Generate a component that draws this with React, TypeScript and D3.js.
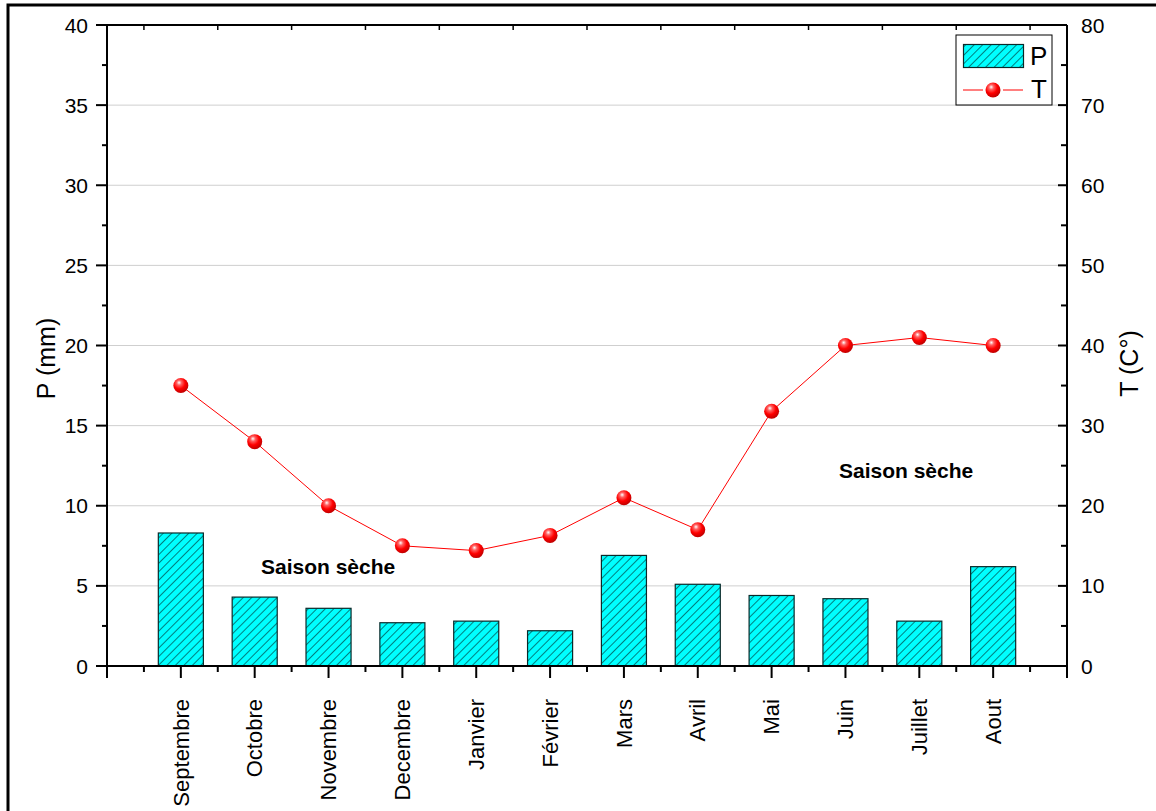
import React from "react";
import * as d3 from "d3";

const months = ["Septembre", "Octobre", "Novembre", "Decembre", "Janvier", "Février", "Mars", "Avril", "Mai", "Juin", "Juillet", "Aout"];
const precip = [8.3, 4.3, 3.6, 2.7, 2.8, 2.2, 6.9, 5.1, 4.4, 4.2, 2.8, 6.2];
const temp = [35, 28, 20, 15, 14.4, 16.3, 21, 17, 31.8, 40, 41, 40];
const pTicks = [0, 5, 10, 15, 20, 25, 30, 35, 40];
const tTicks = [0, 10, 20, 30, 40, 50, 60, 70, 80];

const W = 1156, H = 811;
const L = 107, R = 1067, T = 25, B = 666;
const FONT = "'Liberation Sans', Arial, sans-serif";

export default function App() {
  const x = d3.scaleLinear().domain([0, months.length + 1]).range([L, R]);
  const yP = d3.scaleLinear().domain([0, 40]).range([B, T]);
  const yT = d3.scaleLinear().domain([0, 80]).range([B, T]);
  const step = x(1) - x(0);
  const bw = step * 0.61;
  const majorX = d3.range(0, months.length + 2);
  const minorX = d3.range(0, months.length + 1).map((d) => d + 0.5);
  const pMinor = d3.range(0, 40, 5).map((d) => d + 2.5);
  const tMinor = d3.range(0, 80, 10).map((d) => d + 5);
  const line = d3.line<number>().x((_, i) => x(i + 1)).y((d) => yT(d));

  return (
    <svg width={W} height={H} style={{ position: "absolute", left: 0, top: 0, background: "#fff" }} fontFamily={FONT}>
      <defs>
        <pattern id="hatch" patternUnits="userSpaceOnUse" width="6" height="6" patternTransform="rotate(45)">
          <rect width="6" height="6" fill="#00FFFF" />
          <line x1="0" y1="0" x2="0" y2="6" stroke="#000" strokeWidth="1" />
        </pattern>
        <radialGradient id="ball" cx="0.4" cy="0.35" r="0.65" fx="0.38" fy="0.3">
          <stop offset="0" stopColor="#ffffff" />
          <stop offset="0.25" stopColor="#ff6060" />
          <stop offset="0.6" stopColor="#ff0000" />
          <stop offset="1" stopColor="#c00000" />
        </radialGradient>
      </defs>
      <rect x={8} y={5} width={W + 20} height={H + 20} fill="#fff" stroke="#000" strokeWidth={3} />

      {/* gridlines */}
      {pTicks.filter((d) => d > 0 && d < 40).map((d) => (
        <line key={"g" + d} x1={L} x2={R} y1={yP(d)} y2={yP(d)} stroke="#cfcfcf" strokeWidth={1} />
      ))}

      {/* bars */}
      {precip.map((v, i) => (
        <rect key={"b" + i} x={x(i + 1) - bw / 2} y={yP(v)} width={bw} height={B - yP(v)} fill="url(#hatch)" stroke="#0a2a2a" strokeWidth={1.2} />
      ))}

      {/* temperature line */}
      <path d={line(temp) || ""} fill="none" stroke="#ff0000" strokeWidth={1} />
      {temp.map((v, i) => (
        <circle key={"c" + i} cx={x(i + 1)} cy={yT(v)} r={7.5} fill="url(#ball)" />
      ))}

      {/* axes lines */}
      <line x1={L} x2={R} y1={B} y2={B} stroke="#000" strokeWidth={2} />
      <line x1={L} x2={R} y1={T} y2={T} stroke="#000" strokeWidth={2} />
      <line x1={L} x2={L} y1={T} y2={B} stroke="#000" strokeWidth={2} />
      <line x1={R} x2={R} y1={T} y2={B} stroke="#000" strokeWidth={2} />

      {/* bottom ticks */}
      {majorX.map((d) => (
        <line key={"mx" + d} x1={x(d)} x2={x(d)} y1={B} y2={B + 12} stroke="#000" strokeWidth={2} />
      ))}
      {minorX.map((d) => (
        <line key={"nx" + d} x1={x(d)} x2={x(d)} y1={B} y2={B + 6} stroke="#000" strokeWidth={2} />
      ))}
      {/* top ticks */}
      {minorX.map((d) => (
        <line key={"tx" + d} x1={x(d)} x2={x(d)} y1={T} y2={T + 5} stroke="#000" strokeWidth={1.5} />
      ))}
      {months.map((m, i) => (
        <text key={"ml" + i} transform={`translate(${x(i + 1)},699) rotate(-90)`} textAnchor="end" dy="0.35em" fontSize={22} fill="#000">{m}</text>
      ))}

      {/* left axis ticks */}
      {pTicks.map((d) => (
        <g key={"lp" + d}>
          <line x1={L - 11} x2={L} y1={yP(d)} y2={yP(d)} stroke="#000" strokeWidth={2} />
          <text x={L - 19} y={yP(d)} dy="0.36em" textAnchor="end" fontSize={21} fill="#000">{d}</text>
        </g>
      ))}
      {pMinor.map((d) => (
        <line key={"lpm" + d} x1={L - 5} x2={L} y1={yP(d)} y2={yP(d)} stroke="#000" strokeWidth={2} />
      ))}

      {/* right axis ticks */}
      {tTicks.map((d) => (
        <g key={"rt" + d}>
          <line x1={R - 9} x2={R} y1={yT(d)} y2={yT(d)} stroke="#000" strokeWidth={2} />
          <text x={R + 14} y={yT(d)} dy="0.36em" textAnchor="start" fontSize={21} fill="#000">{d}</text>
        </g>
      ))}
      {tMinor.map((d) => (
        <line key={"rtm" + d} x1={R - 6} x2={R} y1={yT(d)} y2={yT(d)} stroke="#000" strokeWidth={2} />
      ))}

      {/* axis titles */}
      <text transform={`translate(46,${yP(20) + 13}) rotate(-90)`} textAnchor="middle" dy="0.35em" fontSize={25} fill="#000">P (mm)</text>
      <text transform={`translate(1129,${yT(40) + 18}) rotate(-90)`} textAnchor="middle" dy="0.35em" fontSize={25} fill="#000">T (C°)</text>

      {/* annotations */}
      <text x={261} y={574} fontSize={21} fontWeight="bold" fill="#000">Saison sèche</text>
      <text x={839} y={478} fontSize={21} fontWeight="bold" fill="#000">Saison sèche</text>

      {/* legend */}
      <rect x={956} y={35} width={96} height={70} fill="#fff" stroke="#000" strokeWidth={1} />
      <rect x={963.5} y={44.5} width={60} height={23} fill="url(#hatch)" stroke="#0a2a2a" strokeWidth={1.2} />
      <text x={1030} y={56} dy="0.36em" fontSize={26} fill="#000">P</text>
      <line x1={963} x2={983} y1={90} y2={90} stroke="#ff0000" strokeWidth={1} />
      <line x1={1003} x2={1023} y1={90} y2={90} stroke="#ff0000" strokeWidth={1} />
      <circle cx={993} cy={90} r={7.5} fill="url(#ball)" />
      <text x={1031} y={89} dy="0.36em" fontSize={26} fill="#000">T</text>
    </svg>
  );
}
